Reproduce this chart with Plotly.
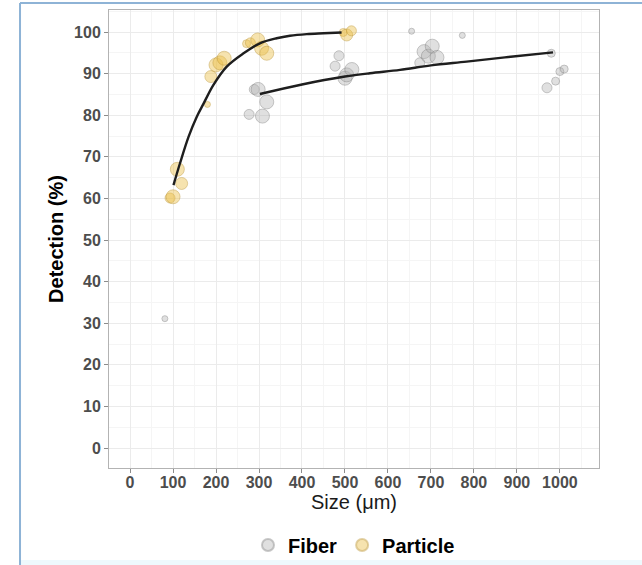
import plotly.graph_objects as go

# ---------------- data ----------------
fiber_size = [81, 277, 308, 289, 298, 318, 477, 486, 500, 504, 516, 655, 674, 684, 694, 703, 714, 773, 970, 980, 990, 1000, 1010]
fiber_detection = [31.1, 80.2, 79.8, 86.2, 86.2, 83.2, 91.8, 94.3, 88.9, 89.7, 91.0, 100.2, 92.6, 95.3, 94.2, 96.6, 93.9, 99.2, 86.6, 94.9, 88.2, 90.5, 91.1]
fiber_weight = [1, 3, 5, 3, 5, 5, 3, 3, 5, 5, 5, 1, 3, 5, 5, 5, 5, 1, 3, 2, 2, 2, 2]

particle_size = [93, 100, 110, 120, 180, 188, 200, 209, 219, 271, 280, 297, 306, 318, 496, 504, 515]
particle_detection = [60.1, 60.4, 67.0, 63.6, 82.6, 89.3, 92.1, 92.6, 93.7, 97.2, 97.4, 98.1, 96.1, 94.9, 99.9, 99.3, 100.3]
particle_weight = [3, 5, 5, 4, 1, 4, 5, 5, 5, 2, 3, 5, 5, 5, 2, 4, 3]

particle_fit_x = [101, 116, 136, 155, 171, 194, 225, 264, 302, 341, 372, 411, 450, 492]
particle_fit_y = [63.2, 68.4, 74.8, 79.6, 82.8, 87.3, 91.7, 94.9, 97.3, 98.5, 99.1, 99.5, 99.7, 99.9]

fiber_fit_x = [302, 400, 500, 558, 628, 700, 783, 880, 984]
fiber_fit_y = [85.1, 87.4, 89.3, 90.1, 90.9, 92.0, 92.9, 94.0, 95.1]

x_ticks = [0, 100, 200, 300, 400, 500, 600, 700, 800, 900, 1000]
y_ticks = [0, 10, 20, 30, 40, 50, 60, 70, 80, 90, 100]

# ---------------- figure ----------------
def msize(w):
    return [4 + 2 * v for v in w]

FONT = "Liberation Sans, Arial, sans-serif"

fig = go.Figure()
fig.add_trace(go.Scatter(
    x=fiber_size, y=fiber_detection, mode="markers", name="Fiber",
    marker=dict(size=msize(fiber_weight), color="rgba(175,175,175,0.55)",
                line=dict(color="rgba(125,125,125,0.6)", width=1)),
))
fig.add_trace(go.Scatter(
    x=particle_size, y=particle_detection, mode="markers", name="Particle",
    marker=dict(size=msize(particle_weight), color="rgba(236,192,72,0.62)",
                line=dict(color="rgba(185,145,45,0.6)", width=1)),
))
fig.add_trace(go.Scatter(
    x=particle_fit_x, y=particle_fit_y, mode="lines", line_shape="spline",
    line=dict(color="#1e1e1e", width=2.4), showlegend=False, hoverinfo="skip",
))
fig.add_trace(go.Scatter(
    x=fiber_fit_x, y=fiber_fit_y, mode="lines", line_shape="spline",
    line=dict(color="#1e1e1e", width=2.4), showlegend=False, hoverinfo="skip",
))

axis_common = dict(
    showgrid=True, gridcolor="#EBEBEB", gridwidth=1, automargin=False,
    zeroline=False, showline=True, linecolor="#B3B3B3", linewidth=1, mirror=True,
    ticks="outside", ticklen=4, tickcolor="#8C8C8C", tickwidth=1,
    tickfont=dict(family=FONT, size=16, color="#4D4D4D", weight="bold"),
)

fig.update_xaxes(
    range=[-49, 1091], tickmode="array", tickvals=x_ticks,
    ticktext=[str(v) for v in x_ticks], ticklabelstandoff=-4,
    minor=dict(tickmode="array", tickvals=[v + 50 for v in x_ticks], showgrid=True,
               gridcolor="#F5F5F5", gridwidth=1, ticks=""),
    title=dict(text="Size (μm)", font=dict(family=FONT, size=20, color="#1a1a1a"), standoff=4),
    **axis_common,
)
fig.update_yaxes(
    range=[-4.8, 105.3], tickmode="array", tickvals=y_ticks,
    ticktext=[str(v) for v in y_ticks],
    minor=dict(tickmode="array", tickvals=[v + 5 for v in y_ticks], showgrid=True,
               gridcolor="#F5F5F5", gridwidth=1, ticks=""),
    title=dict(text="Detection (%)", font=dict(family=FONT, size=20, color="#000000", weight="bold"), standoff=5),
    **axis_common,
)

# decorative frame like the source screenshot
shapes = [
    dict(type="line", xref="paper", yref="paper", x0=-0.1816, x1=1.09, y0=1.0153, y1=1.0153,
         line=dict(color="#8EB3D6", width=2)),
    dict(type="line", xref="paper", yref="paper", x0=-0.1816, x1=-0.1816, y0=1.0153, y1=-0.22,
         line=dict(color="#8EB3D6", width=2)),
    dict(type="rect", xref="paper", yref="paper", x0=-0.18, x1=1.09, y0=-0.2009, y1=-0.22,
         fillcolor="#EEF9FD", line=dict(width=0), layer="below"),
]

fig.update_layout(
    width=642, height=565,
    margin=dict(l=109, r=43, t=10, b=97, autoexpand=False),
    paper_bgcolor="white", plot_bgcolor="white",
    font=dict(family=FONT),
    shapes=shapes,
    showlegend=True,
    legend=dict(orientation="h", x=0.5, xanchor="center", y=-0.168, yanchor="middle",
                font=dict(family=FONT, size=20, color="#000000", weight="bold"),
                itemsizing="constant", bgcolor="rgba(0,0,0,0)"),
)

fig.write_html("out.html", config={"displayModeBar": False},
               post_script="document.body.style.margin='0px';document.body.style.overflow='hidden';")
